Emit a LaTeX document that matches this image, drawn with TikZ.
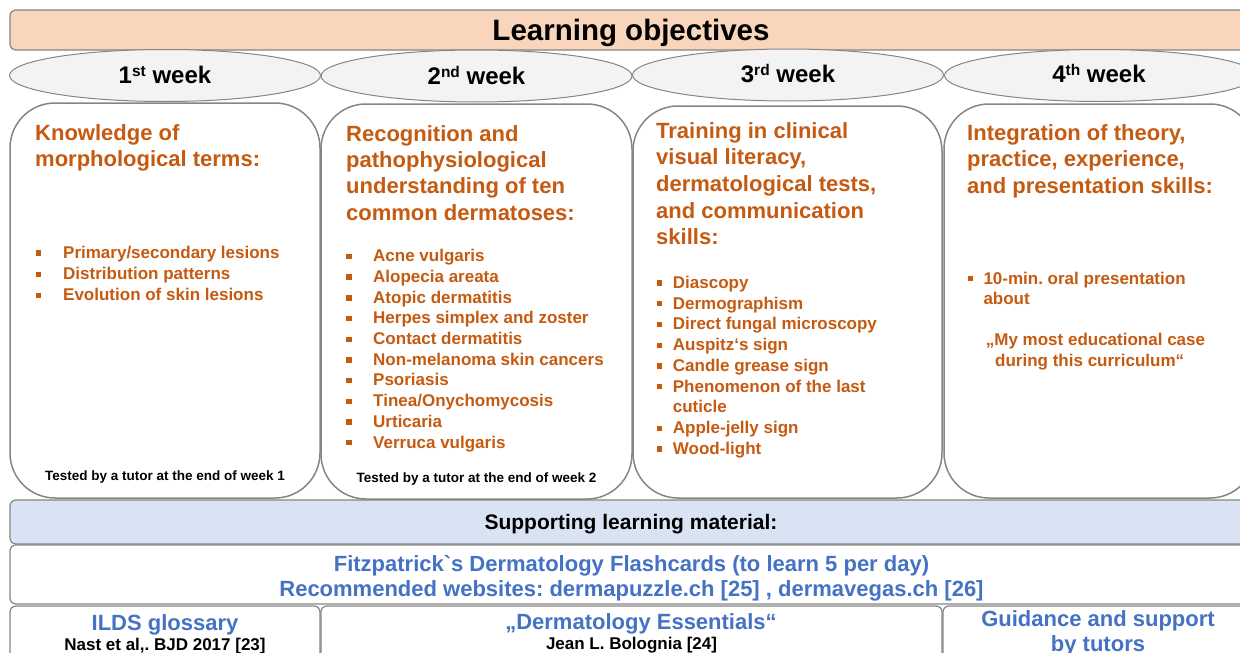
\documentclass[tikz,border=0pt]{standalone}
\usepackage{fontspec}
\setmainfont{Liberation Sans}
\newfontfamily\nomapfont[Ligatures=ResetAll]{Liberation Sans}
\usetikzlibrary{shapes.geometric}

\definecolor{peach}{HTML}{F8D5BB}
\definecolor{paleblue}{HTML}{DAE3F3}
\definecolor{ovalgray}{HTML}{F3F3F3}
\definecolor{edge}{HTML}{858585}
\definecolor{rust}{HTML}{C55A11}
\definecolor{azure}{HTML}{4472C4}

\newcommand\fs[2]{\fontsize{#1}{#2}\selectfont}
\newcommand\ordsup[1]{\raisebox{7pt}{\fs{15.5}{15.5}#1}}
\newcommand\gravechar{{\nomapfont\bfseries`}}

\tikzset{
  bar/.style={draw=edge, line width=1.2pt, rounded corners=6pt},
  weekbox/.style={draw=edge, line width=1.5pt, rounded corners=45pt, fill=white},
  oval/.style={draw=edge, line width=1pt, fill=ovalgray, ellipse,
               minimum width=311pt, minimum height=52pt, inner sep=0pt},
  txt/.style={inner sep=0pt, anchor=base, execute at begin node=\frenchspacing},
  titletxt/.style={txt, font=\bfseries\fs{29.5}{34}},
  weektxt/.style={txt, font=\bfseries\fs{24}{28}},
  head/.style={txt, anchor=base west, text=rust, font=\bfseries\fs{22}{26}},
  item/.style={txt, anchor=base west, text=rust, font=\bfseries\fs{17}{20}},
  sq/.style={rectangle, fill=rust, minimum size=5.4pt, inner sep=0pt},
  tested/.style={txt, font=\bfseries\fs{13.5}{16}},
  support/.style={txt, font=\bfseries\fs{21}{24}},
  bluetxt/.style={txt, text=azure, font=\bfseries\fs{22}{26}},
  reftxt/.style={txt, font=\bfseries\fs{17}{20}},
}

\begin{document}
\begin{tikzpicture}[x=1pt, y=-1pt]
\useasboundingbox (0,0) rectangle (1240,653);
\clip (0,0) rectangle (1240,653);

% header bar
\draw[bar, fill=peach] (10,10) rectangle (1290,50);
\node[titletxt] (title) at (631,40) {Learning objectives};

% week ovals
\node[oval] (w1) at (165,75.5) {};
\node[oval] (w2) at (476.5,76) {};
\node[oval] (w3) at (788,75) {};
\node[oval] (w4) at (1100,75.5) {};
\node[weektxt] (w1t) at (165,83) {1\ordsup{st} week};
\node[weektxt] (w2t) at (476.5,84) {2\ordsup{nd} week};
\node[weektxt] (w3t) at (788,82.5) {3\ordsup{rd} week};
\node[weektxt] (w4t) at (1099,82.5) {4\ordsup{th} week};

% weekly content boxes
\draw[weekbox] (10,103) rectangle (320,498);
\draw[weekbox] (321,104) rectangle (632,499);
\draw[weekbox] (633,106) rectangle (942,498);
\draw[weekbox] (944,104) rectangle (1255,498);

% week 1
\foreach \t [count=\i] in {Knowledge of, morphological terms:}
  \node[head] (h1-\i) at (35,{140+26.6*(\i-1)}) {\t};
\foreach \t [count=\i] in {Primary/secondary lesions, Distribution patterns, Evolution of skin lesions}{
  \node[sq] (s1-\i) at (38.7,{258.3+21.2*(\i-1)-5.3}) {};
  \node[item] (i1-\i) at (63,{258.3+21.2*(\i-1)}) {\t};
}
\node[tested] (test1) at (165,480.5) {Tested by a tutor at the end of week 1};

% week 2
\foreach \t [count=\i] in {Recognition and, pathophysiological, understanding of ten, common dermatoses:}
  \node[head] (h2-\i) at (346,{141+26.4*(\i-1)}) {\t};
\foreach \t [count=\i] in {Acne vulgaris, Alopecia areata, Atopic dermatitis, Herpes simplex and zoster, Contact dermatitis, Non-melanoma skin cancers, Psoriasis, Tinea/Onychomycosis, Urticaria, Verruca vulgaris}{
  \node[sq] (s2-\i) at (349,{261.7+20.7*(\i-1)-5.3}) {};
  \node[item] (i2-\i) at (373,{261.7+20.7*(\i-1)}) {\t};
}
\node[tested] (test2) at (476.5,482.3) {Tested by a tutor at the end of week 2};

% week 3
\foreach \t [count=\i] in {Training in clinical, {visual literacy,}, {dermatological tests,}, and communication, skills:}
  \node[head] (h3-\i) at (656,{138+26.7*(\i-1)}) {\t};
\foreach \t/\b [count=\i] in {Diascopy/1, Dermographism/1, Direct fungal microscopy/1, Auspitz‘s sign/1, Candle grease sign/1, Phenomenon of the last/1, cuticle/0, Apple-jelly sign/1, Wood-light/1}{
  \ifnum\b=1 \node[sq] (s3-\i) at (659.5,{288.3+20.75*(\i-1)-5.3}) {};\fi
  \node[item] (i3-\i) at (672.7,{288.3+20.75*(\i-1)}) {\t};
}

% week 4
\foreach \t [count=\i] in {{Integration of theory,}, {practice, experience,}, and presentation skills:}
  \node[head] (h4-\i) at (967,{140+26.5*(\i-1)}) {\t};
\node[sq] (s4-1) at (970.5,278.5) {};
\node[item] (i4-1) at (983.3,284.3) {10-min. oral presentation};
\node[item] (i4-2) at (983.3,304.3) {about};
\node[item] (i4-3) at (985.7,345.3) {„My most educational case};
\node[item] (i4-4) at (995,366.3) {during this curriculum“};

% supporting material
\draw[bar, fill=paleblue] (10,500) rectangle (1290,544);
\node[support] (sup) at (631,529.5) {Supporting learning material:};

\draw[bar, fill=white] (10,545) rectangle (1290,604);
\node[bluetxt] (fitz) at (631.5,571) {Fitzpatrick\gravechar s Dermatology Flashcards (to learn 5 per day)};
\node[bluetxt] (web) at (631.5,596) {Recommended websites: dermapuzzle.ch [25] , dermavegas.ch [26]};

\draw[bar, fill=white] (10,606) rectangle (320,690);
\draw[bar, fill=white] (321,606) rectangle (942,690);
\draw[bar, fill=white] (943,606) rectangle (1290,690);

\node[bluetxt] (ilds) at (165,630.5) {ILDS glossary};
\node[reftxt] (nast) at (165,650.5) {Nast et al,. BJD 2017 [23]};
\node[bluetxt] (ess) at (641,629) {„Dermatology Essentials“};
\node[reftxt] (bolo) at (631.5,649.5) {Jean L. Bolognia [24]};
\node[bluetxt] (guide) at (1098,626.5) {Guidance and support};
\node[bluetxt] (tutor) at (1098,651) {by tutors};
\end{tikzpicture}
\end{document}
